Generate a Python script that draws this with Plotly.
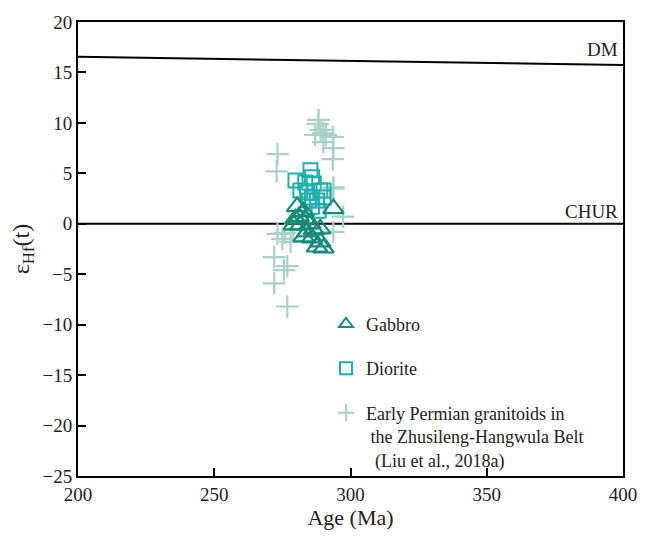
import plotly.graph_objects as go

# Reference lines
dm_age = [200, 400]
dm_eps = [16.55, 15.75]
chur_age = [200, 400]
chur_eps = [0, 0]

# Early Permian granitoids (Liu et al., 2018a)
gran_age = [288.3, 288.0, 289.0, 290.0, 291.0, 287.0, 290.0, 293.5, 293.7, 293.5, 293.7,
            273.2, 272.9, 293.7, 297.3, 293.7, 273.2, 278.0, 272.0, 276.8, 275.6, 272.0,
            276.8, 275.0, 279.0, 276.0]
gran_eps = [10.3, 9.9, 9.3, 9.0, 8.8, 8.8, 8.1, 8.6, 7.5, 6.4, 3.5,
            6.9, 5.2, 3.6, 0.7, -0.8, -1.0, -1.8, -3.3, -4.2, -4.6, -5.9,
            -8.2, -1.5, -0.6, -0.9]

# Diorite
dio_age = [279.8, 285.3, 285.9, 286.5, 283.4, 288.9, 290.1, 284.1, 285.9, 287.7,
           284.7, 288.3, 285.9, 281.6, 290.1]
dio_eps = [4.3, 5.3, 4.6, 4.0, 4.1, 3.3, 3.3, 3.1, 2.6, 2.3,
           2.3, 1.3, 1.7, 3.3, 2.6]

# Gabbro
gab_age = [293.7, 280.4, 282.8, 279.8, 279.2, 281.6, 285.3, 284.1, 286.5, 288.9,
           282.8, 285.9, 288.9, 290.1, 287.7, 281.0, 283.4]
gab_eps = [1.5, 1.7, 1.2, 0.5, -0.1, -0.1, 0.0, -0.8, -0.6, -0.5,
           -1.3, -1.4, -1.8, -2.4, -2.3, 0.7, 0.5]

FONT = "Liberation Serif, Times New Roman, serif"

fig = go.Figure()
fig.add_trace(go.Scatter(x=dm_age, y=dm_eps, mode="lines",
                         line=dict(color="black", width=2), showlegend=False))
fig.add_trace(go.Scatter(x=chur_age, y=chur_eps, mode="lines",
                         line=dict(color="black", width=2), showlegend=False))

fig.add_trace(go.Scatter(
    x=gran_age, y=gran_eps, mode="markers",
    name="Early Permian granitoids in<br> the Zhusileng-Hangwula Belt<br>  (Liu et al., 2018a)",
    legendgroup="c", legendrank=3,
    marker=dict(symbol="cross-thin", size=16, line=dict(color="#a9d1c6", width=2.2))))
fig.add_trace(go.Scatter(
    x=dio_age, y=dio_eps, mode="markers", name="Diorite", legendgroup="b", legendrank=2,
    marker=dict(symbol="square-open", size=14, color="#1fb0ad", line=dict(width=2))))
fig.add_trace(go.Scatter(
    x=gab_age, y=gab_eps, mode="markers", name="Gabbro", legendgroup="a", legendrank=1,
    marker=dict(symbol="triangle-up-open", size=18, color="#178a7a", line=dict(width=2.2))))

fig.add_annotation(x=400, y=16.0, xref="x", yref="y", text="DM", showarrow=False,
                   xanchor="right", yanchor="bottom", xshift=-3,
                   font=dict(family=FONT, size=19, color="#222"))
fig.add_annotation(x=400, y=0, xref="x", yref="y", text="CHUR", showarrow=False,
                   xanchor="right", yanchor="bottom", xshift=-3,
                   font=dict(family=FONT, size=19, color="#222"))

fig.update_layout(
    width=649, height=536,
    margin=dict(l=78, r=19, t=20, b=58),
    plot_bgcolor="white", paper_bgcolor="white",
    font=dict(family=FONT, size=18, color="#222"),
    legend=dict(x=0.455, y=0.375, xanchor="left", yanchor="top",
                bgcolor="rgba(0,0,0,0)", font=dict(family=FONT, size=18, color="#222"),
                tracegroupgap=18, valign="top", itemsizing="constant"),
    xaxis=dict(range=[200, 400], tickvals=[200, 250, 300, 350, 400],
               ticks="inside", ticklen=8, tickwidth=2, tickcolor="black",
               showline=True, linecolor="black", linewidth=2, mirror=True,
               showgrid=False, zeroline=False,
               title=dict(text="Age (Ma)", font=dict(family=FONT, size=22), standoff=4),
               tickfont=dict(family=FONT, size=19)),
    yaxis=dict(range=[-25, 20], tickvals=[-25, -20, -15, -10, -5, 0, 5, 10, 15, 20],
               ticktext=["−25", "−20", "−15", "−10", "−5", "0", "5", "10", "15", "20"],
               ticks="inside", ticklen=8, tickwidth=2, tickcolor="black",
               showline=True, linecolor="black", linewidth=2, mirror=True,
               showgrid=False, zeroline=False,
               title=dict(text="ε<sub>Hf</sub>(t)", font=dict(family=FONT, size=24), standoff=6),
               tickfont=dict(family=FONT, size=19)),
)

fig.write_html("out.html")
